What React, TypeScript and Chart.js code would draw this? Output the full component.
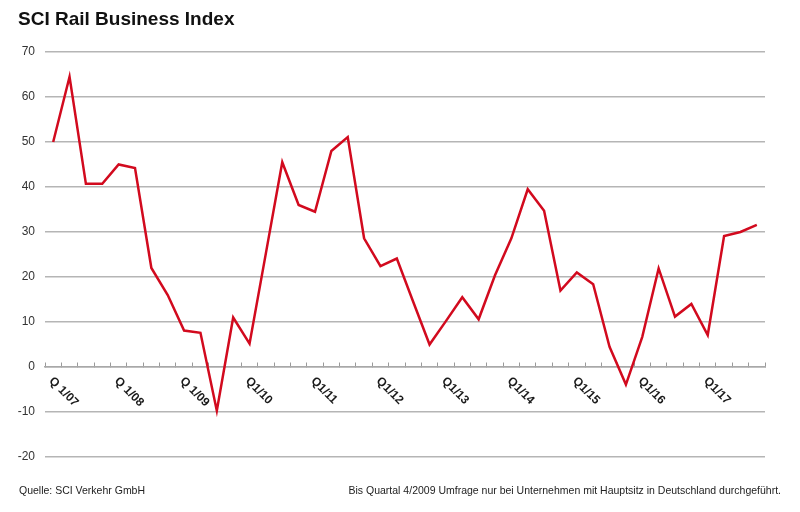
import React, { useEffect, useRef } from "react";
import { Chart, registerables } from "chart.js";

Chart.register(...registerables);

const years = ["07", "08", "09", "10", "11", "12", "13", "14", "15", "16", "17"];
const quarters = ["1", "2", "3", "4"];
const categories: string[] = years.flatMap((y) => quarters.map((q) => `Q${q}/${y}`));

const indexValues = [
  50, 64.5, 40.7, 40.7,
  45, 44.2, 22, 16,
  8.1, 7.6, -9.7, 11,
  5.2, 25.3, 45.5, 36,
  34.5, 48, 51.1, 28.6,
  22.4, 24.1, 14.5, 5,
  10.2, 15.5, 10.6, 20.4,
  28.6, 39.5, 34.7, 17,
  21, 18.4, 4.5, -3.9,
  6.7, 21.9, 11.2, 14,
  7.1, 29.1, 30, 31.6,
];

const xTickLabels = [
  "Q 1/07", "Q 1/08", "Q 1/09", "Q1/10", "Q1/11", "Q1/12",
  "Q1/13", "Q1/14", "Q1/15", "Q1/16", "Q1/17",
];

const yMin = -20;
const yMax = 70;
const yStep = 10;

const FONT = "'Liberation Sans', Arial, Helvetica, sans-serif";

const xLabelPlugin = {
  id: "xLabelPlugin",
  afterDraw(chart: any) {
    const ctx = chart.ctx;
    const xs = chart.scales.x;
    const ys = chart.scales.y;
    const axisY = ys.getPixelForValue(0);
    ctx.save();
    ctx.font = `bold 12px ${FONT}`;
    ctx.fillStyle = "#1a1a1a";
    ctx.textAlign = "left";
    ctx.textBaseline = "top";
    xTickLabels.forEach((lab, k) => {
      const x = xs.getPixelForValue(k * 4);
      ctx.save();
      ctx.translate(x + 2, axisY + 8);
      ctx.rotate(Math.PI / 4);
      ctx.fillText(lab, 0, 0);
      ctx.restore();
    });
    ctx.restore();
  },
};

export default function App() {
  const ref = useRef<HTMLCanvasElement | null>(null);

  useEffect(() => {
    document.body.style.margin = "0";
    if (!ref.current) return;
    const chart = new Chart(ref.current, {
      type: "line",
      data: {
        labels: categories,
        datasets: [
          {
            data: indexValues,
            borderColor: "#d20a1e",
            borderWidth: 2.5,
            pointRadius: 0,
            tension: 0,
            fill: false,
          },
        ],
      },
      options: {
        animation: false,
        responsive: false,
        maintainAspectRatio: false,
        devicePixelRatio: 1,
        layout: { padding: { left: 0, right: 35, top: 52, bottom: 55 } },
        plugins: {
          legend: { display: false },
          tooltip: { enabled: false },
          title: { display: false },
        },
        scales: {
          x: {
            type: "category",
            offset: true,
            position: { y: 0 } as any,
            grid: {
              display: true,
              offset: true,
              drawOnChartArea: false,
              drawTicks: true,
              tickLength: -5,
              color: "#9a9a9a",
              lineWidth: 1,
            },
            border: { display: true, color: "#a8a8a8", width: 1.5 },
            ticks: { display: false },
          },
          y: {
            min: yMin,
            max: yMax,
            ticks: {
              stepSize: yStep,
              color: "#333333",
              font: { size: 12, family: FONT },
              padding: 10,
            },
            grid: { color: "#b5b5b5", lineWidth: 1.5, drawTicks: false },
            border: { display: false },
            afterFit: (s: any) => {
              s.width = 45;
              s.paddingTop = 0;
              s.paddingBottom = 0;
            },
          } as any,
        },
      },
      plugins: [xLabelPlugin],
    });
    return () => chart.destroy();
  }, []);

  return (
    <div style={{ position: "relative", width: 800, height: 512, background: "#fff", fontFamily: FONT }}>
      <div
        style={{
          position: "absolute",
          left: 18,
          top: 8,
          fontSize: 19,
          fontWeight: "bold",
          color: "#111",
          lineHeight: "22px",
          whiteSpace: "nowrap",
        }}
      >
        SCI Rail Business Index
      </div>
      <canvas ref={ref} width={800} height={512} style={{ display: "block", width: 800, height: 512 }} />
      <div style={{ position: "absolute", left: 19, top: 484, fontSize: 10.5, color: "#222", whiteSpace: "nowrap" }}>
        Quelle: SCI Verkehr GmbH
      </div>
      <div style={{ position: "absolute", right: 19, top: 484, fontSize: 10.5, color: "#222", whiteSpace: "nowrap" }}>
        Bis Quartal 4/2009 Umfrage nur bei Unternehmen mit Hauptsitz in Deutschland durchgeführt.
      </div>
    </div>
  );
}
